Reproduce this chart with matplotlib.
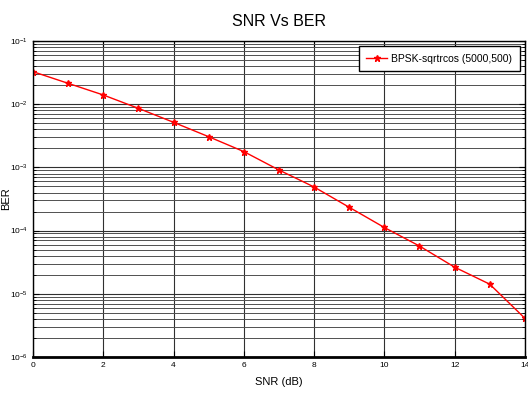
import matplotlib
matplotlib.use("Agg")
import matplotlib.pyplot as plt
from matplotlib.ticker import LogLocator, NullFormatter

plt.rcParams['font.family'] = ['Liberation Sans', 'DejaVu Sans']

snr = [0, 1, 2, 3, 4, 5, 6, 7, 8, 9, 10, 11, 12, 13, 14]
ber = [0.0327, 0.0214, 0.0140, 0.0086, 0.00517, 0.00306, 0.00178, 0.00091,
       0.00049, 0.000234, 0.000112, 5.7e-5, 2.64e-5, 1.42e-5, 4.1e-6]
xticks = [0, 2, 4, 6, 8, 10, 12, 14]

fig = plt.figure(figsize=(5.28, 3.97), dpi=100)
ax = fig.add_axes([0.0625, 0.1008, 0.9315, 0.7959])
ax.semilogy(snr, ber, color='red', marker='*', markersize=5, linewidth=1.0,
            label='BPSK-sqrtrcos (5000,500)')
ax.set_xlim(0, 14)
ax.set_ylim(1e-6, 1e-1)
ax.set_xticks(xticks)
ax.yaxis.set_major_locator(LogLocator(base=10, numticks=10))
ax.yaxis.set_minor_locator(LogLocator(base=10, subs=range(2, 10), numticks=20))
ax.yaxis.set_minor_formatter(NullFormatter())
ax.grid(True, which='major', color='#303030', linewidth=0.8)
ax.grid(True, which='minor', axis='y', color='#505050', linewidth=0.7)
ax.tick_params(axis='both', which='both', direction='in', labelsize=6, top=True, right=True)
ax.tick_params(axis='both', which='major', length=4)
ax.tick_params(axis='both', which='minor', length=2)
for s in ax.spines.values():
    s.set_linewidth(1.0)
    s.set_color('black')
ax.spines['bottom'].set_linewidth(2.0)
ax.set_title('SNR Vs BER', fontsize=11.5, pad=11)
ax.set_xlabel('SNR (dB)', fontsize=8, labelpad=6)
ax.set_ylabel('BER', fontsize=8)
ax.yaxis.set_label_coords(-0.045, 0.5)
leg = ax.legend(loc='upper right', fontsize=7.5, fancybox=False, framealpha=1,
                edgecolor='black', borderaxespad=0.5, handlelength=2.0,
                handletextpad=0.4, borderpad=0.7)
leg.get_frame().set_linewidth(1.0)
fig.savefig('out.png', dpi=100)
